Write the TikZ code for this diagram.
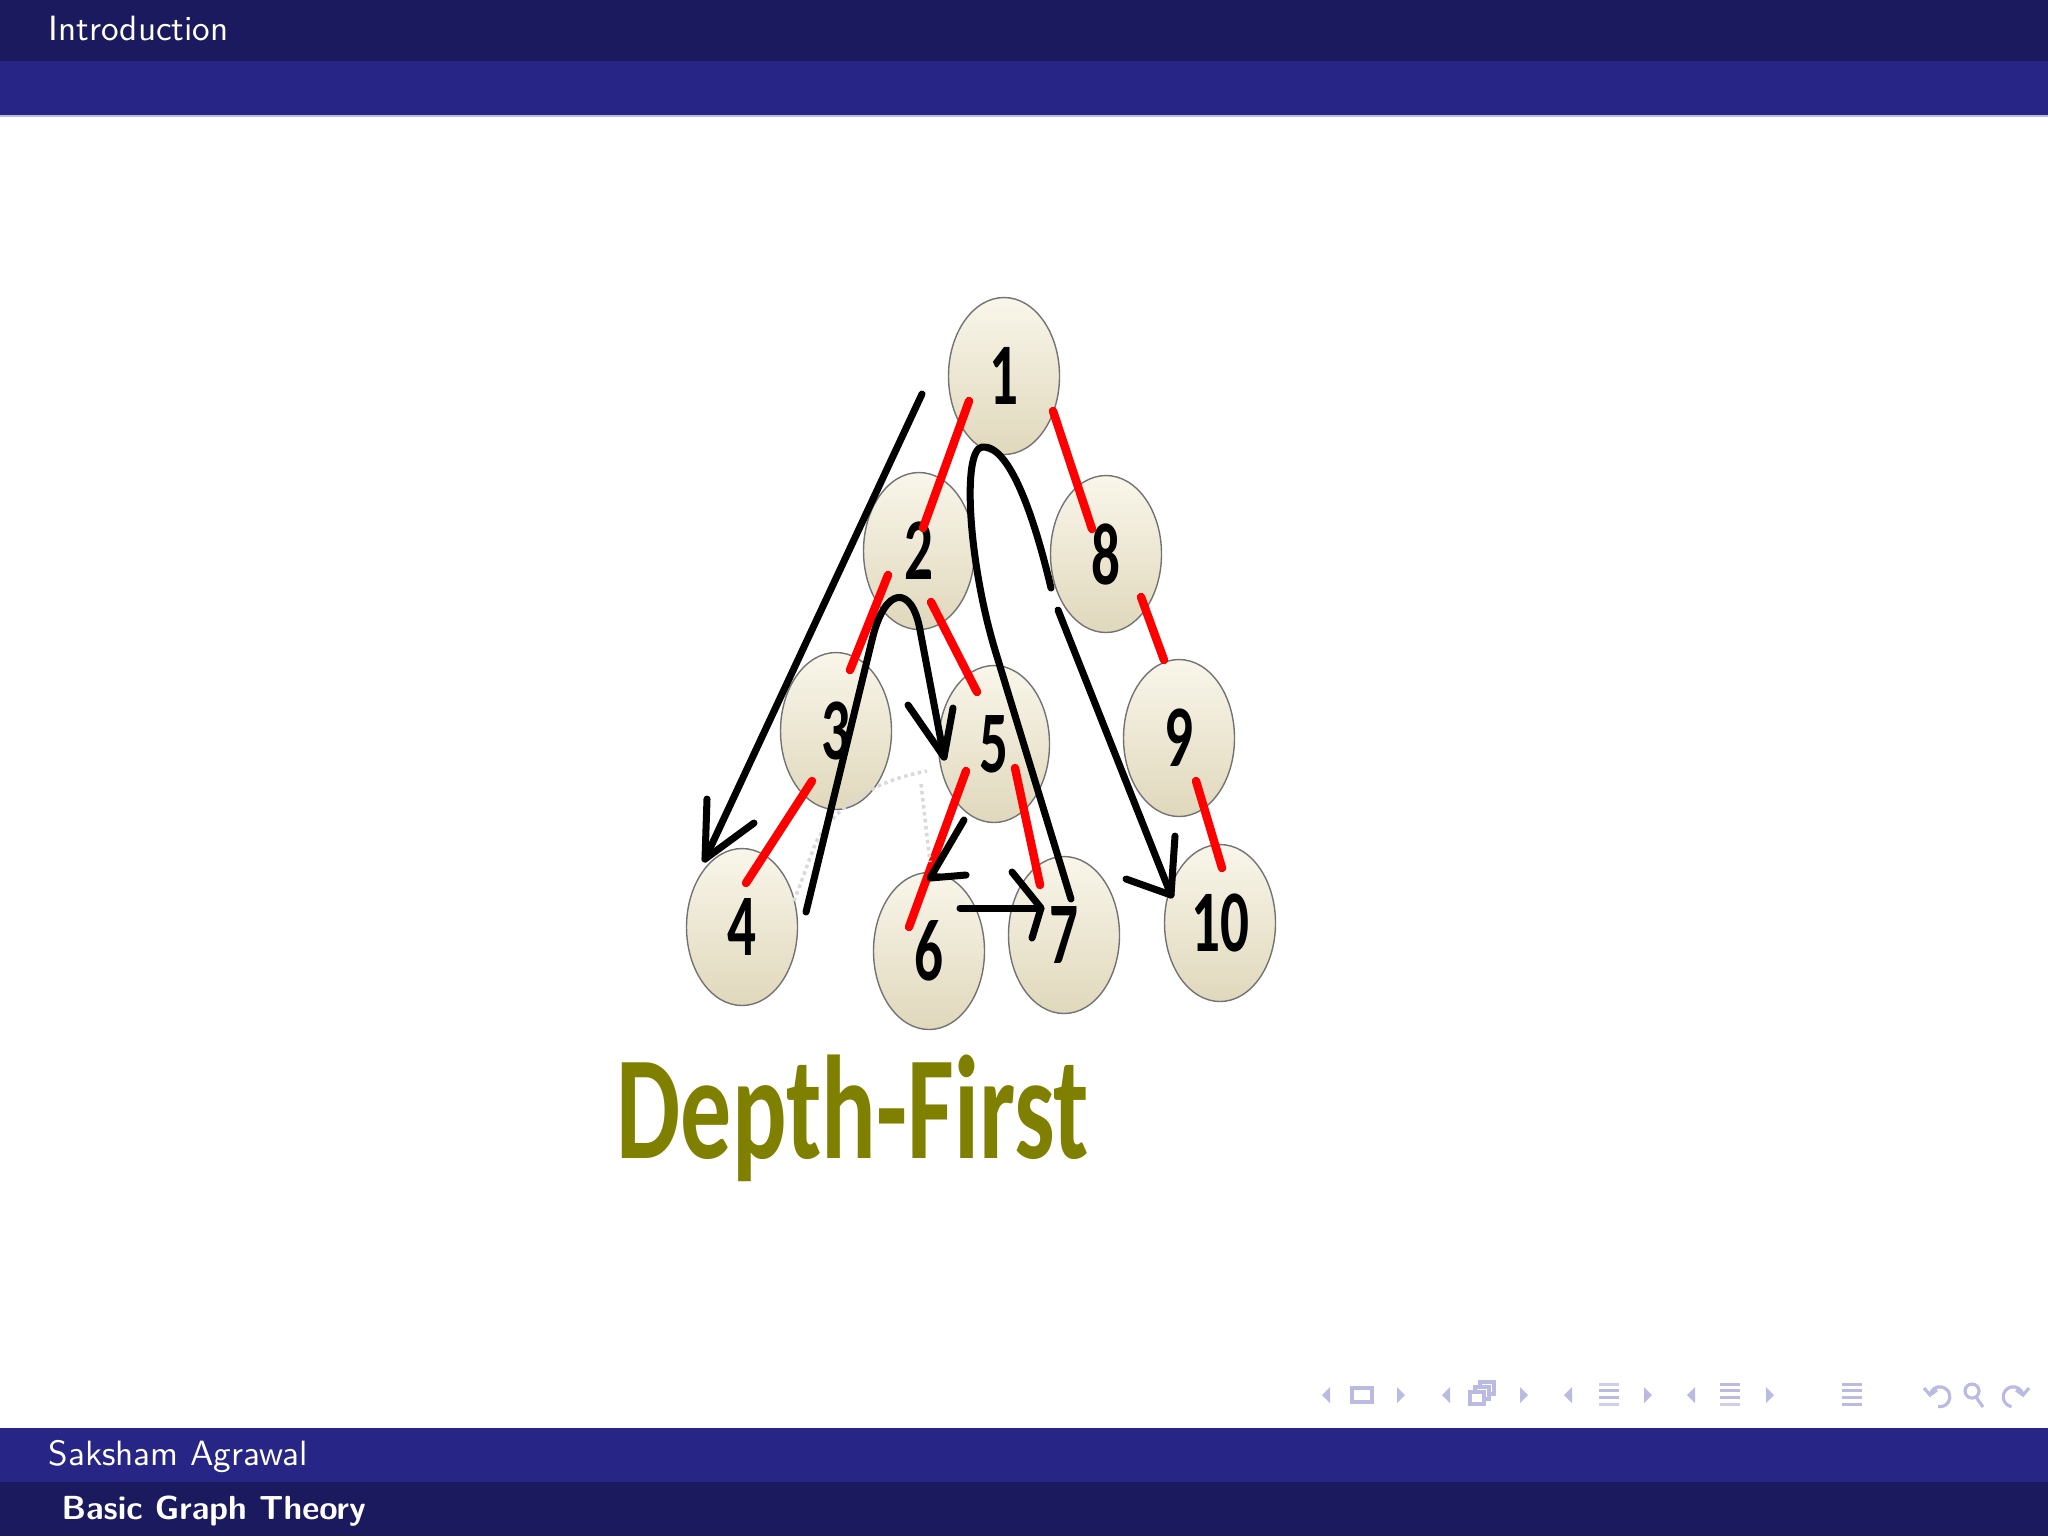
\documentclass[tikz,border=0pt]{standalone}
\usepackage{fontspec}
\newfontfamily\ballfont{Carlito}
\usetikzlibrary{shapes.geometric,calc}

\definecolor{headdark}{RGB}{27,26,94}
\definecolor{headmid}{RGB}{39,38,134}
\definecolor{navgray}{RGB}{186,186,226}
\definecolor{ballhi}{RGB}{249,246,234}
\definecolor{ballshade}{RGB}{224,216,188}
\definecolor{titleolive}{RGB}{128,128,0}

\newcommand\ballnum[1]{\scalebox{0.65}[1]{#1}}

\tikzset{
  ball/.style={ellipse, draw=black!55, line width=0.4pt, top color=ballhi, bottom color=ballshade,
    minimum width=11.1mm, minimum height=15.7mm, inner sep=0pt,
    font=\ballfont\bfseries\fontsize{25}{25}\selectfont},
  tree/.style={red, line width=2.4pt, line cap=round},
  walk/.style={black, line width=2pt, line cap=round, line join=round},
  navicon/.style={navgray, line width=0.9pt}
}

\begin{document}
\begin{tikzpicture}[x=0.1mm,y=-0.1mm]
  \useasboundingbox (0,0) rectangle (2048,1536);

  % head and foot bars
  \fill[headdark] (0,0) rectangle (2048,61);
  \fill[headmid] (0,61) rectangle (2048,116);
  \draw[navgray, line width=0.5pt] (0,116) -- (2048,116);
  \fill[headmid] (0,1428) rectangle (2048,1482);
  \fill[headdark] (0,1482) rectangle (2048,1536);

  \node[anchor=base west, text=white, inner sep=0, font=\sffamily\fontsize{10}{12}\selectfont] (sect) at (48,40) {Introduction};
  \node[anchor=base west, text=white, inner sep=0, font=\sffamily\fontsize{10}{12}\selectfont] (author) at (48,1465) {Saksham Agrawal};
  \node[anchor=base west, text=white, inner sep=0, font=\sffamily\bfseries\fontsize{9.5}{12}\selectfont] (talk) at (61,1519) {Basic Graph Theory};

  % the balls
  \node[ball] (n1) at (1004,376) {\ballnum{1}};
  \node[ball] (n2) at (919,551) {\ballnum{2}};
  \node[ball] (n8) at (1106,554) {\ballnum{8}};
  \node[ball] (n3) at (836,731) {\ballnum{3}};
  \node[ball] (n5) at (994,744) {\ballnum{5}};
  \node[ball] (n9) at (1179,738) {\ballnum{9}};
  \node[ball] (n4) at (742,927) {\ballnum{4}};
  \node[ball] (n6) at (929,951) {\ballnum{6}};
  \node[ball] (n7) at (1064,935) {\ballnum{7}};
  \node[ball] (n10) at (1220,923) {\ballnum{10}};

  % tree edges
  \draw[tree] ($(n1)+(-35,25)$) -- ($(n2)+(4,-23)$);
  \draw[tree] ($(n1)+(49,35)$) -- ($(n8)+(-14,-25)$);
  \draw[tree] ($(n2)+(-31,24)$) -- ($(n3)+(14,-61)$);
  \draw[tree] ($(n2)+(12,51)$) -- ($(n5)+(-17,-52)$);
  \draw[tree] ($(n8)+(35,43)$) -- ($(n9)+(-15,-78)$);
  \draw[tree] ($(n3)+(-24,50)$) -- ($(n4)+(4,-44)$);
  \draw[tree] ($(n5)+(-28,27)$) -- ($(n6)+(-20,-24)$);
  \draw[tree] ($(n5)+(21,24)$) -- ($(n7)+(-24,-50)$);
  \draw[tree] ($(n9)+(17,43)$) -- ($(n10)+(2,-55)$);

  % faint rubbed-out stroke
  \draw[black!15, line width=1pt, densely dotted] (794,901) -- (816,842) .. controls (840,800) and (880,780) .. (927,771);
  \draw[black!15, line width=1pt, densely dotted] (921,784) -- (930,862);

  % traversal strokes
  \draw[walk] ($(n1)+(-82,18)$) -- ($(n4)+(-37,-68)$);
  \draw[walk] ($(n4)+(-35,-128)$) -- ($(n4)+(-37,-68)$) -- ($(n4)+(12,-104)$);

  \draw[walk] ($(n4)+(64,-15)$) -- (872,640) .. controls (885,585) and (912,585) .. (920,630) -- ($(n5)+(-50,13)$);
  \draw[walk] ($(n5)+(-86,-39)$) -- ($(n5)+(-50,13)$) -- ($(n5)+(-41,-36)$);

  \draw[walk] ($(n7)+(7,-36)$) -- (995,650) .. controls (968,560) and (962,450) .. (982,447)
    .. controls (1010,444) and (1035,520) .. (1051,588);
  \draw[walk] (1058,610) -- ($(n10)+(-49,-28)$);
  \draw[walk] ($(n10)+(-94,-44)$) -- ($(n10)+(-49,-28)$) -- ($(n10)+(-45,-87)$);

  \draw[walk] ($(n6)+(35,-131)$) -- ($(n6)+(1,-73)$) -- ($(n6)+(37,-76)$);

  \draw[walk] ($(n6)+(31,-43)$) -- ($(n7)+(-23,-27)$);
  \draw[walk] ($(n7)+(-52,-63)$) -- ($(n7)+(-23,-27)$) -- ($(n7)+(-32,3)$);

  \node[anchor=base west, text=titleolive, inner sep=0, font=\ballfont\bfseries\fontsize{42}{42}\selectfont] (caption) at (616,1158) {\scalebox{0.69}[1]{Depth-First}};

  % navigation symbols
  \fill[navgray] (1322,1395) -- (1330,1387) -- (1330,1403) -- cycle;
  \draw[navicon] (1352,1388) rectangle (1372,1402);
  \fill[navgray] (1405,1395) -- (1397,1387) -- (1397,1403) -- cycle;
  \fill[navgray] (1442,1395) -- (1450,1387) -- (1450,1403) -- cycle;
  \draw[navicon, fill=white] (1480,1382) rectangle (1494,1394);
  \draw[navicon, fill=white] (1475,1387) rectangle (1489,1399);
  \draw[navicon, fill=white] (1470,1392) rectangle (1484,1404);
  \fill[navgray] (1528,1395) -- (1520,1387) -- (1520,1403) -- cycle;
  \fill[navgray] (1564,1395) -- (1572,1387) -- (1572,1403) -- cycle;
  \fill[navgray!70] (1599,1383) rectangle (1619,1386);
  \fill[navgray] (1599,1389) rectangle (1619,1392);
  \fill[navgray] (1599,1396) rectangle (1619,1399);
  \fill[navgray!70] (1599,1403) rectangle (1619,1406);
  \fill[navgray] (1652,1395) -- (1644,1387) -- (1644,1403) -- cycle;
  \fill[navgray] (1687,1395) -- (1695,1387) -- (1695,1403) -- cycle;
  \fill[navgray] (1720,1383) rectangle (1740,1386);
  \fill[navgray] (1720,1389) rectangle (1740,1392);
  \fill[navgray] (1720,1396) rectangle (1740,1399);
  \fill[navgray!70] (1720,1403) rectangle (1740,1406);
  \fill[navgray] (1774,1395) -- (1766,1387) -- (1766,1403) -- cycle;
  \fill[navgray] (1842,1383) rectangle (1862,1386);
  \fill[navgray] (1842,1389) rectangle (1862,1392);
  \fill[navgray] (1842,1396) rectangle (1862,1399);
  \fill[navgray] (1842,1403) rectangle (1862,1406);
  \draw[navicon] (1930,1395) arc[start angle=-170, end angle=100, radius=10];
  \draw[navicon] (1924,1388) -- (1930,1395) -- (1937,1390);
  \draw[navicon] (1972,1391) circle[radius=7];
  \draw[navicon] (1976,1397) -- (1983,1407);
  \draw[navicon] (2023,1395) arc[start angle=-10, end angle=-260, radius=10];
  \draw[navicon] (2029,1388) -- (2023,1395) -- (2016,1390);
\end{tikzpicture}
\end{document}
